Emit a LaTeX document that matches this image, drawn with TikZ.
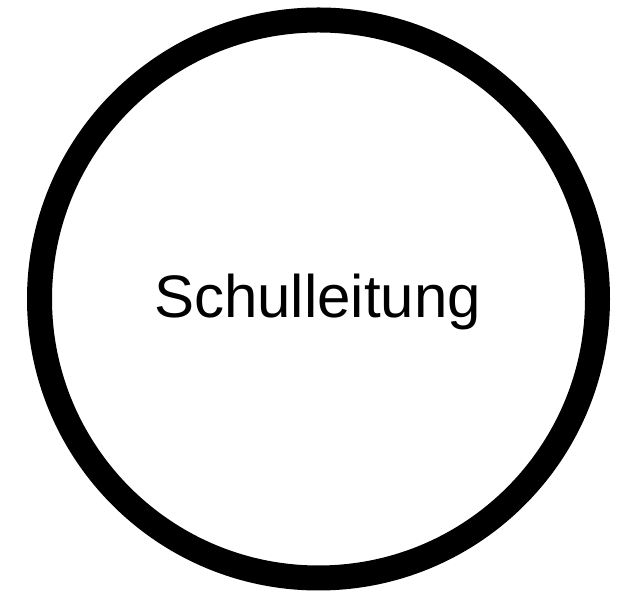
\documentclass[tikz,border=0pt]{standalone}
\usepackage{fontspec}
\setmainfont{Liberation Sans}
\begin{document}
\begin{tikzpicture}[x=1pt,y=1pt,
  ring/.style={draw=black,line width=25pt,fill=white,circle,minimum size=558pt,inner sep=0pt},
  label/.style={font=\fontsize{60}{72}\selectfont,anchor=base,inner sep=0pt}]
\useasboundingbox (0,0) rectangle (638,599);
\node[ring] (c) at (318.5,300) {};
\node[label] (t) at (317.5,281) {Schulleitung};
\end{tikzpicture}
\end{document}
